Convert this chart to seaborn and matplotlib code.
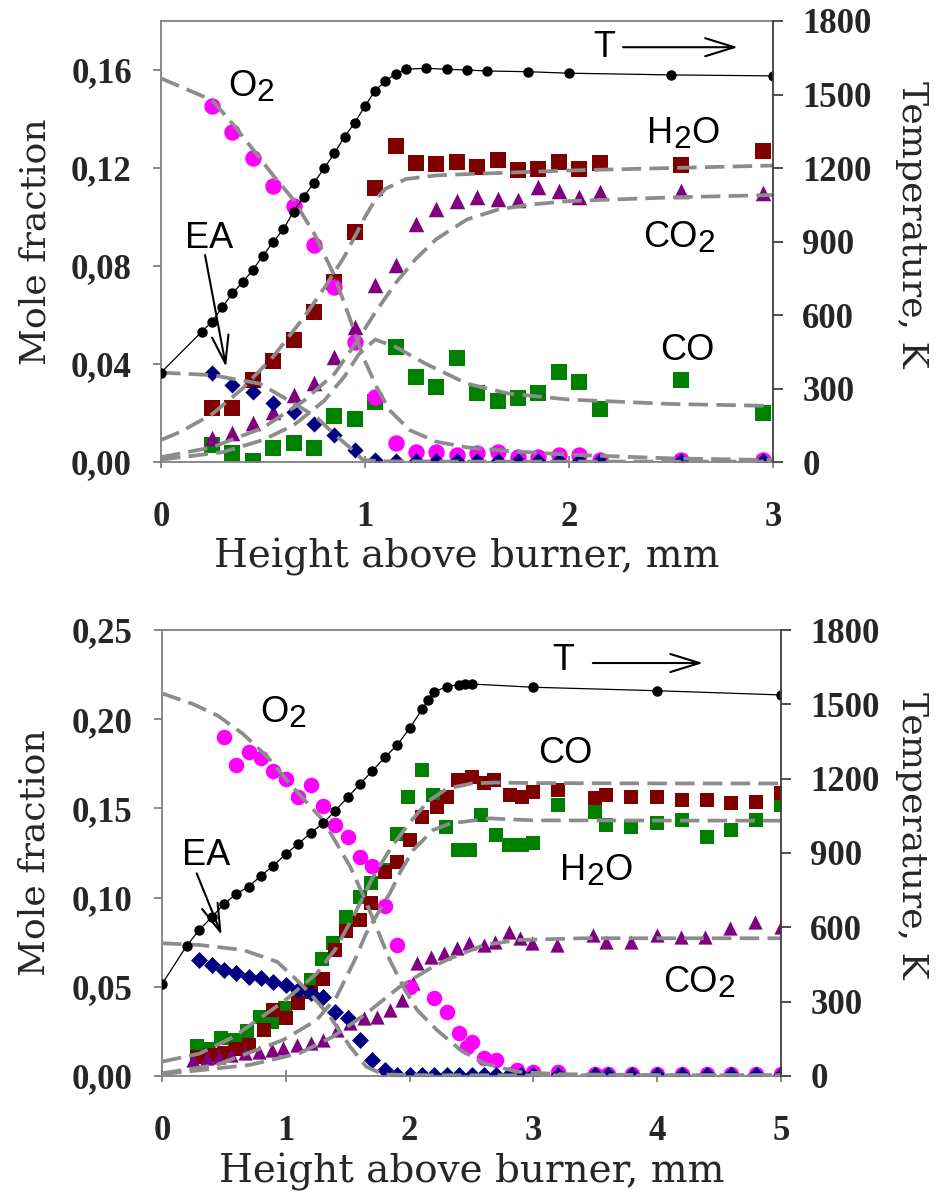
import matplotlib
matplotlib.use("Agg")
import numpy as np
import pandas as pd
import seaborn as sns
import matplotlib.pyplot as plt

sns.set_style("white")
plt.rcParams["font.family"] = ["Liberation Sans", "DejaVu Sans"]

# ---------------- DATA: top panel ----------------
top_x = [0.25, 0.35, 0.45, 0.55, 0.65, 0.75, 0.85, 0.95, 1.05, 1.15, 1.25, 1.35,
         1.45, 1.55, 1.65, 1.75, 1.85, 1.95, 2.05, 2.15, 2.55, 2.95]
top_O2 = [0.1453, 0.1345, 0.1242, 0.1125, 0.1043, 0.0886, 0.0713, 0.0491, 0.0267, 0.0079,
          0.0042, 0.0040, 0.0030, 0.0035, 0.0040, 0.0020, 0.0020, 0.0030, 0.0030, 0.0010,
          0.0010, 0.0010]
top_H2O = [0.0220, 0.0220, 0.0335, 0.0412, 0.0498, 0.0613, 0.0733, 0.0940, 0.1117, 0.1290,
           0.1221, 0.1215, 0.1226, 0.1205, 0.1232, 0.1191, 0.1198, 0.1225, 0.1198, 0.1221,
           0.1212, 0.1270]
top_CO2 = [0.0097, 0.0120, 0.0160, 0.0205, 0.0273, 0.0324, 0.0427, 0.0552, 0.0722, 0.0804,
           0.0971, 0.1031, 0.1066, 0.1080, 0.1073, 0.1070, 0.1123, 0.1107, 0.1080, 0.1103,
           0.1107, 0.1099]
top_CO = [0.0069, 0.0035, 0.0003, 0.0056, 0.0076, 0.0056, 0.0188, 0.0174, 0.0245, 0.0468,
          0.0348, 0.0307, 0.0425, 0.0280, 0.0250, 0.0260, 0.0283, 0.0368, 0.0328, 0.0215,
          0.0335, 0.0199]
top_EA = [0.0362, 0.0314, 0.0287, 0.0240, 0.0205, 0.0154, 0.0110, 0.0049, 0.0008, 0.0004,
          0.0004, 0.0004, 0.0004, 0.0004, 0.0004, 0.0004, 0.0004, 0.0004, 0.0004, 0.0004,
          0.0004, 0.0004]

top_T_x = [0, 0.2, 0.25, 0.3, 0.35, 0.4, 0.45, 0.5, 0.55, 0.6, 0.65, 0.7, 0.75, 0.8, 0.85,
           0.9, 0.95, 1.0, 1.05, 1.1, 1.15, 1.2, 1.3, 1.4, 1.5, 1.6, 1.8, 2.0, 2.5, 3.0]
top_T = [365, 532, 573, 631, 689, 733, 784, 842, 898, 950, 1022, 1083, 1140, 1199, 1260,
         1328, 1385, 1453, 1516, 1555, 1584, 1603, 1607, 1603, 1600, 1596, 1593, 1587, 1580, 1576]

# model curves (top)
top_mO2_x = [0, 0.25, 0.35, 0.44, 0.55, 0.65, 0.75, 0.845, 0.926, 0.99, 1.057, 1.12, 1.22,
             1.35, 1.5, 1.7, 2.0, 2.5, 3.0]
top_mO2_y = [0.1566, 0.1477, 0.1382, 0.1287, 0.1170, 0.1070, 0.0934, 0.0770, 0.0586, 0.0430,
             0.0307, 0.0212, 0.0130, 0.0083, 0.0060, 0.0045, 0.0030, 0.0015, 0.0008]
top_mH2O_x = [0, 0.1, 0.25, 0.4, 0.55, 0.7, 0.8, 0.9, 0.95, 1.0, 1.05, 1.1, 1.2, 1.35, 1.5,
              2.0, 2.5, 3.0]
top_mH2O_y = [0.0090, 0.0125, 0.0195, 0.0300, 0.0430, 0.0590, 0.0710, 0.0840, 0.0920, 0.1000,
              0.1070, 0.1115, 0.1155, 0.1170, 0.1175, 0.1190, 0.1200, 0.1210]
top_mCO2_x = [0, 0.25, 0.5, 0.7, 0.85, 0.95, 1.05, 1.15, 1.25, 1.35, 1.5, 1.65, 1.8, 2.0,
              2.5, 3.0]
top_mCO2_y = [0.0020, 0.0060, 0.0140, 0.0250, 0.0360, 0.0480, 0.0610, 0.0730, 0.0830, 0.0910,
              0.0990, 0.1030, 0.1050, 0.1065, 0.1080, 0.1090]
top_mCO_x = [0, 0.3, 0.5, 0.65, 0.8, 0.9, 0.97, 1.05, 1.15, 1.3, 1.5, 1.7, 2.0, 2.5, 3.0]
top_mCO_y = [0.0010, 0.0040, 0.0090, 0.0150, 0.0250, 0.0350, 0.0440, 0.0500, 0.0470, 0.0400,
             0.0320, 0.0280, 0.0255, 0.0237, 0.0229]
top_mEA_x = [0, 0.25, 0.485, 0.65, 0.76, 0.845, 0.94, 0.99, 1.1, 1.5, 3.0]
top_mEA_y = [0.0365, 0.0355, 0.0320, 0.0240, 0.0185, 0.0117, 0.0049, 0.0008, 0.0003, 0.0002,
             0.0002]

# ---------------- DATA: bottom panel ----------------
bot_O2_x = [0.5, 0.6, 0.7, 0.8, 0.9, 1.0, 1.1, 1.2, 1.3, 1.4, 1.5, 1.6, 1.7, 1.8, 1.9, 2.0,
            2.2, 2.3, 2.4, 2.46, 2.5, 2.6, 2.7, 2.87, 3.0, 3.2, 3.5, 3.6, 3.8, 4.0, 4.2, 4.4,
            4.6, 4.8, 5.0]
bot_O2 = [0.1900, 0.1743, 0.1818, 0.1780, 0.1711, 0.1665, 0.1566, 0.1630, 0.1515, 0.1405,
          0.1338, 0.1230, 0.1175, 0.0953, 0.0734, 0.0500, 0.0435, 0.0358, 0.0239, 0.0164,
          0.0192, 0.0099, 0.0090, 0.0034, 0.0024, 0.0024, 0.0010, 0.0010, 0.0010, 0.0010,
          0.0010, 0.0010, 0.0010, 0.0010, 0.0010]
bot_H2O_x = [0.28, 0.39, 0.5, 0.6, 0.7, 0.82, 0.9, 1.0, 1.1, 1.2, 1.3, 1.4, 1.49, 1.6, 1.69,
             1.8, 1.9, 2.0, 2.1, 2.22, 2.3, 2.39, 2.5, 2.6, 2.68, 2.81, 2.91, 3.0, 3.2, 3.5,
             3.59, 3.79, 4.0, 4.2, 4.4, 4.6, 4.8, 5.0]
bot_H2O = [0.0108, 0.0118, 0.0127, 0.0150, 0.0174, 0.0258, 0.0370, 0.0323, 0.0410, 0.0470,
           0.0543, 0.0706, 0.0810, 0.0874, 0.0968, 0.1145, 0.1200, 0.1323, 0.1454, 0.1510,
           0.1566, 0.1659, 0.1678, 0.1640, 0.1659, 0.1575, 0.1566, 0.1594, 0.1603, 0.1557,
           0.1575, 0.1566, 0.1566, 0.1547, 0.1547, 0.1529, 0.1538, 0.1584]
bot_CO_x = [0.28, 0.38, 0.48, 0.59, 0.69, 0.79, 0.89, 0.99, 1.1, 1.2, 1.29, 1.38, 1.49, 1.6,
            1.69, 1.8, 1.9, 1.99, 2.1, 2.19, 2.29, 2.39, 2.49, 2.58, 2.7, 2.8, 2.91, 3.0,
            3.2, 3.5, 3.59, 3.79, 4.0, 4.2, 4.4, 4.6, 4.8, 5.0]
bot_CO = [0.0169, 0.0150, 0.0211, 0.0202, 0.0250, 0.0328, 0.0304, 0.0380, 0.0460, 0.0538,
          0.0655, 0.0744, 0.0890, 0.1005, 0.1080, 0.1155, 0.1355, 0.1566, 0.1715, 0.1575,
          0.1397, 0.1267, 0.1267, 0.1463, 0.1351, 0.1295, 0.1295, 0.1304, 0.1519, 0.1482,
          0.1407, 0.1398, 0.1416, 0.1435, 0.1342, 0.1379, 0.1435, 0.1519]
bot_CO2_x = [0.25, 0.36, 0.46, 0.56, 0.67, 0.78, 0.89, 0.98, 1.09, 1.2, 1.3, 1.41, 1.52, 1.63,
             1.74, 1.84, 1.94, 2.03, 2.06, 2.17, 2.28, 2.38, 2.48, 2.6, 2.69, 2.8, 2.89, 2.99,
             3.19, 3.48, 3.59, 3.79, 4.0, 4.19, 4.39, 4.59, 4.79, 5.0]
bot_CO2 = [0.0090, 0.0099, 0.0108, 0.0118, 0.0131, 0.0137, 0.0146, 0.0155, 0.0174, 0.0183,
           0.0202, 0.0258, 0.0295, 0.0323, 0.0332, 0.0370, 0.0426, 0.0520, 0.0632, 0.0669,
           0.0688, 0.0716, 0.0744, 0.0735, 0.0753, 0.0809, 0.0772, 0.0744, 0.0735, 0.0790,
           0.0753, 0.0753, 0.0790, 0.0780, 0.0780, 0.0828, 0.0865, 0.0837]
bot_EA_x = [0.3, 0.4, 0.5, 0.6, 0.7, 0.8, 0.9, 1.0, 1.1, 1.2, 1.3, 1.4, 1.5, 1.6, 1.7, 1.8,
            1.9, 2.0, 2.1, 2.2, 2.3, 2.4, 2.5, 2.6, 2.7, 2.8, 2.9, 3.0, 3.2, 3.5, 3.6, 3.8,
            4.0, 4.2, 4.4, 4.6, 4.8, 5.0]
bot_EA = [0.0650, 0.0622, 0.0594, 0.0576, 0.0557, 0.0548, 0.0529, 0.0510, 0.0482, 0.0464,
          0.0445, 0.0360, 0.0323, 0.0202, 0.0090, 0.0034, 0.0006, 0.0006, 0.0006, 0.0006,
          0.0006, 0.0006, 0.0006, 0.0006, 0.0006, 0.0006, 0.0006, 0.0006, 0.0006, 0.0006,
          0.0006, 0.0006, 0.0006, 0.0006, 0.0006, 0.0006, 0.0006, 0.0006]

bot_T_x = [0, 0.2, 0.3, 0.4, 0.5, 0.6, 0.7, 0.8, 0.9, 1.0, 1.1, 1.2, 1.3, 1.4, 1.5, 1.6, 1.7,
           1.8, 1.9, 2.0, 2.1, 2.15, 2.2, 2.3, 2.4, 2.45, 2.5, 3.0, 4.0, 5.0]
bot_T = [371, 526, 589, 640, 694, 735, 764, 808, 849, 896, 937, 980, 1020, 1071, 1125, 1179,
         1232, 1286, 1336, 1403, 1480, 1518, 1551, 1571, 1580, 1582, 1582, 1569, 1555, 1538]

bot_mO2_x = [0, 0.25, 0.45, 0.65, 0.85, 1.03, 1.2, 1.3, 1.41, 1.52, 1.63, 1.73, 1.84, 1.95,
             2.06, 2.22, 2.41, 2.6, 2.87, 3.2, 4.0, 5.0]
bot_mO2_y = [0.2145, 0.2085, 0.2020, 0.1920, 0.1790, 0.1640, 0.1510, 0.1435, 0.1304, 0.1173,
             0.1005, 0.0837, 0.0650, 0.0500, 0.0370, 0.0258, 0.0146, 0.0071, 0.0024, 0.0010,
             0.0005, 0.0005]
bot_mH2O_x = [0, 0.3, 0.58, 0.98, 1.25, 1.4, 1.55, 1.7, 1.85, 2.0, 2.15, 2.3, 2.5, 2.7, 3.0,
              4.0, 5.0]
bot_mH2O_y = [0.0080, 0.0125, 0.0220, 0.0416, 0.0575, 0.0710, 0.0900, 0.1110, 0.1280, 0.1420,
              0.1540, 0.1610, 0.1640, 0.1645, 0.1642, 0.1640, 0.1640]
bot_mCO_x = [0, 0.44, 0.98, 1.25, 1.41, 1.55, 1.65, 1.75, 1.84, 1.93, 2.03, 2.19, 2.33, 2.65,
             3.0, 5.0]
bot_mCO_y = [0.0015, 0.0062, 0.0202, 0.0314, 0.0444, 0.0640, 0.0800, 0.0920, 0.1024, 0.1150,
             0.1267, 0.1379, 0.1416, 0.1444, 0.1433, 0.1431]
bot_mCO2_x = [0, 0.71, 1.11, 1.38, 1.65, 1.92, 2.19, 2.33, 2.6, 2.87, 3.4, 5.0]
bot_mCO2_y = [0.0010, 0.0062, 0.0127, 0.0220, 0.0350, 0.0500, 0.0613, 0.0660, 0.0734, 0.0762,
              0.0772, 0.0772]
bot_mEA_x = [0, 0.31, 0.657, 0.93, 1.06, 1.195, 1.357, 1.52, 1.65, 1.79, 2.2, 5.0]
bot_mEA_y = [0.0744, 0.0734, 0.0706, 0.0640, 0.0557, 0.0464, 0.0332, 0.0164, 0.0052, 0.0008,
             0.0004, 0.0004]

# ticks
top_yticks = [0.00, 0.04, 0.08, 0.12, 0.16]
top_ylabels = ["0,00", "0,04", "0,08", "0,12", "0,16"]
bot_yticks = [0.00, 0.05, 0.10, 0.15, 0.20, 0.25]
bot_ylabels = ["0,00", "0,05", "0,10", "0,15", "0,20", "0,25"]
T_ticks = [0, 300, 600, 900, 1200, 1500, 1800]
T_labels = ["0", "300", "600", "900", "1200", "1500", "1800"]
top_xticks = [0, 1, 2, 3]
bot_xticks = [0, 1, 2, 3, 4, 5]

# ---------------- STYLE ----------------
C_O2, C_H2O, C_CO2, C_CO, C_EA = "#ff00ff", "#800000", "#800080", "#008000", "#000080"
MODEL = "#8c8c8c"
SPINE = "#808080"
DPI = 100
fig = plt.figure(figsize=(9.43, 11.93), dpi=DPI)
renderer = fig.canvas.get_renderer()

ax_top = fig.add_axes([0.1707, 0.6127, 0.6490, 0.3697])
ax_bot = fig.add_axes([0.1718, 0.0981, 0.6564, 0.3738])


def model(ax, x, y):
    sns.lineplot(x=x, y=y, ax=ax, color=MODEL, lw=2.7, linestyle=(0, (5.2, 2.2)),
                 sort=False, estimator=None, zorder=3, legend=False)


def points(ax, x, y, marker, s, color):
    sns.scatterplot(x=x, y=y, ax=ax, marker=marker, s=s, color=color, linewidth=0,
                    zorder=2, legend=False)


def chem(ax, x, y, parts, size=26):
    dx = 0.0
    for s, sub in parts:
        fs = size * (0.88 if sub else 1.0)
        t = ax.annotate(s, (x, y), xytext=(dx, -3.8 if sub else 0), textcoords="offset points",
                        fontsize=fs, ha="left", va="baseline", color="black", zorder=6)
        w = t.get_window_extent(renderer).width
        dx += w * 72.0 / DPI


def arrow(ax, start, end, hl=21, hw=6.5):
    ax.annotate("", xy=end, xytext=start,
                arrowprops=dict(arrowstyle=f"->,head_length={hl},head_width={hw}",
                                mutation_scale=1, lw=1.5, color="black",
                                shrinkA=0, shrinkB=0), zorder=6)


def style_axes(ax, ax2, xmax, ymax, yticks, ylabels, xticks, xlab_y, ylab_x, tlab_x):
    ax.set_xlim(0, xmax)
    ax.set_ylim(0, ymax)
    ax2.set_ylim(0, 1800)
    ax.set_yticks(yticks, labels=ylabels)
    ax.set_xticks(xticks, labels=[str(v) for v in xticks])
    ax2.set_yticks(T_ticks, labels=T_labels)
    for sp in ["left", "top", "bottom"]:
        ax.spines[sp].set_color(SPINE)
        ax.spines[sp].set_linewidth(1.3)
        ax2.spines[sp].set_visible(False)
    ax.spines["right"].set_visible(False)
    ax2.spines["right"].set_color("#404040")
    ax2.spines["right"].set_linewidth(1.3)
    ax.tick_params(axis="y", left=True, direction="out", length=6, width=1.3,
                   color=SPINE, pad=15, labelsize=25)
    ax.tick_params(axis="x", bottom=True, direction="inout", length=8, width=1.3,
                   color=SPINE, pad=24, labelsize=25)
    ax2.tick_params(axis="y", right=True, direction="out", length=7, width=1.3,
                    color="#404040", pad=14, labelsize=25)
    for lab in ax.get_yticklabels() + ax.get_xticklabels() + ax2.get_yticklabels():
        lab.set_fontfamily("Liberation Serif")
        lab.set_fontweight("bold")
    ax.set_xlabel("Height above burner, mm", fontsize=28, family="DejaVu Serif")
    ax.xaxis.set_label_coords(0.5, xlab_y)
    ax.set_ylabel("Mole fraction", fontsize=26, family="DejaVu Serif")
    ax.yaxis.set_label_coords(ylab_x, 0.5)
    ax2.set_ylabel("Temperature, K", fontsize=26, family="DejaVu Serif", rotation=270,
                   va="bottom")
    ax2.yaxis.set_label_coords(tlab_x, 0.54)


# ---------------- TOP PANEL ----------------
ax = ax_top
points(ax, top_x, top_CO, "s", 120, C_CO)
points(ax, top_x, top_H2O, "s", 120, C_H2O)
points(ax, top_x, top_CO2, "^", 125, C_CO2)
points(ax, top_x, top_O2, "o", 140, C_O2)
points(ax, top_x, top_EA, "D", 68, C_EA)
for mx, my in [(top_mO2_x, top_mO2_y), (top_mH2O_x, top_mH2O_y), (top_mCO2_x, top_mCO2_y),
               (top_mCO_x, top_mCO_y), (top_mEA_x, top_mEA_y)]:
    model(ax, mx, my)
ax2 = ax.twinx()
sns.lineplot(x=top_T_x, y=top_T, ax=ax2, color="black", lw=0.9, marker="o", markersize=7.5,
             markeredgewidth=0, sort=False, estimator=None, legend=False)
style_axes(ax, ax2, 3, 0.18, top_yticks, top_ylabels, top_xticks, -0.172, -0.178, 1.199)
chem(ax, 0.328, 0.1493, [("O", False), ("2", True)])
chem(ax, 2.118, 0.1652, [("T", False)])
arrow(ax, (2.265, 0.1693), (2.828, 0.1693))
chem(ax, 2.382, 0.1302, [("H", False), ("2", True), ("O", False)])
chem(ax, 2.363, 0.0877, [("CO", False), ("2", True)])
chem(ax, 2.446, 0.0416, [("CO", False)])
chem(ax, 0.118, 0.0873, [("EA", False)])
arrow(ax, (0.216, 0.0845), (0.319, 0.0388), hl=20, hw=6)

# ---------------- BOTTOM PANEL ----------------
ax = ax_bot
points(ax, bot_CO_x, bot_CO, "s", 105, C_CO)
points(ax, bot_H2O_x, bot_H2O, "s", 105, C_H2O)
points(ax, bot_CO2_x, bot_CO2, "^", 105, C_CO2)
points(ax, bot_O2_x, bot_O2, "o", 125, C_O2)
points(ax, bot_EA_x, bot_EA, "D", 75, C_EA)
for mx, my in [(bot_mO2_x, bot_mO2_y), (bot_mH2O_x, bot_mH2O_y), (bot_mCO_x, bot_mCO_y),
               (bot_mCO2_x, bot_mCO2_y), (bot_mEA_x, bot_mEA_y)]:
    model(ax, mx, my)
ax2b = ax.twinx()
sns.lineplot(x=bot_T_x, y=bot_T, ax=ax2b, color="black", lw=0.9, marker="o", markersize=7.5,
             markeredgewidth=0, sort=False, estimator=None, legend=False)
style_axes(ax, ax2b, 5, 0.25, bot_yticks, bot_ylabels, bot_xticks, -0.172, -0.178, 1.184)
chem(ax, 0.792, 0.1984, [("O", False), ("2", True)])
chem(ax, 3.15, 0.2276, [("T", False)])
arrow(ax, (3.48, 0.2315), (4.37, 0.2315))
chem(ax, 3.037, 0.1754, [("CO", False)])
chem(ax, 3.215, 0.1099, [("H", False), ("2", True), ("O", False)])
chem(ax, 4.047, 0.0471, [("CO", False), ("2", True)])
chem(ax, 0.162, 0.1183, [("EA", False)])
arrow(ax, (0.28, 0.1136), (0.482, 0.079), hl=20, hw=6)

fig.savefig("out.png", dpi=DPI, facecolor="white")
